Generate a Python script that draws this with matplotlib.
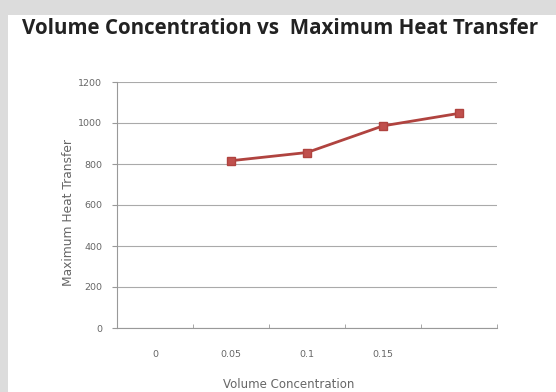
import matplotlib
matplotlib.use("Agg")
import matplotlib.pyplot as plt
import numpy as np
from matplotlib.patches import Rectangle

# category axis as in the spreadsheet chart (last category has no label)
categories = ["0", "0.05", "0.1", "0.15", ""]
heat_transfer = [np.nan, 816, 856, 986, 1047]
y_ticks = [0, 200, 400, 600, 800, 1000, 1200]

fig = plt.figure(figsize=(5.56, 3.92), dpi=100)
fig.patch.set_facecolor("#dcdcdc")
fig.patches.append(Rectangle((8 / 556, 0), 1, 1 - 15 / 392, transform=fig.transFigure,
                             facecolor="white", edgecolor="none", zorder=-5))

fig.text(22 / 556, 1 - 28 / 392, "Volume Concentration vs  Maximum Heat Transfer",
         fontsize=14.8, fontweight="bold", family="Open Sans", color="#222222",
         ha="left", va="center")

ax = fig.add_axes([117 / 556, 1 - 328 / 392, 380 / 556, 246 / 392], zorder=2)
ax.patch.set_alpha(0)
x = np.arange(len(categories))
ax.plot(x, heat_transfer, color="#b0433f", lw=2, marker="s", markersize=6,
        markerfacecolor="#c0504d", markeredgecolor="#b0433f")

ax.set_xlim(-0.5, len(categories) - 0.5)
ax.set_ylim(0, 1200)
ax.set_yticks(y_ticks)
ax.set_yticklabels([str(v) for v in y_ticks])
ax.set_xticks(x)
ax.set_xticklabels(categories)
ax.set_xticks(np.arange(len(categories) + 1) - 0.5, minor=True)
ax.tick_params(axis="x", which="major", length=0, pad=16)
ax.tick_params(axis="x", which="minor", length=3, color="#999999", direction="in")
ax.tick_params(axis="y", length=3.6, color="#999999", pad=7)
ax.tick_params(labelsize=6.8, labelcolor="#666666")
ax.grid(axis="y", color="#aaaaaa", lw=0.8)
ax.set_axisbelow(True)
for side in ["top", "right"]:
    ax.spines[side].set_visible(False)
for side in ["left", "bottom"]:
    ax.spines[side].set_color("#999999")

ax.set_xlabel("Volume Concentration", fontsize=8.5, color="#666666")
ax.xaxis.set_label_coords(0.453, -0.205)
ax.set_ylabel("Maximum Heat Transfer", fontsize=8.8, color="#666666")
ax.yaxis.set_label_coords(-0.11, 0.47)

fig.savefig("out.png", dpi=100, facecolor=fig.get_facecolor())
